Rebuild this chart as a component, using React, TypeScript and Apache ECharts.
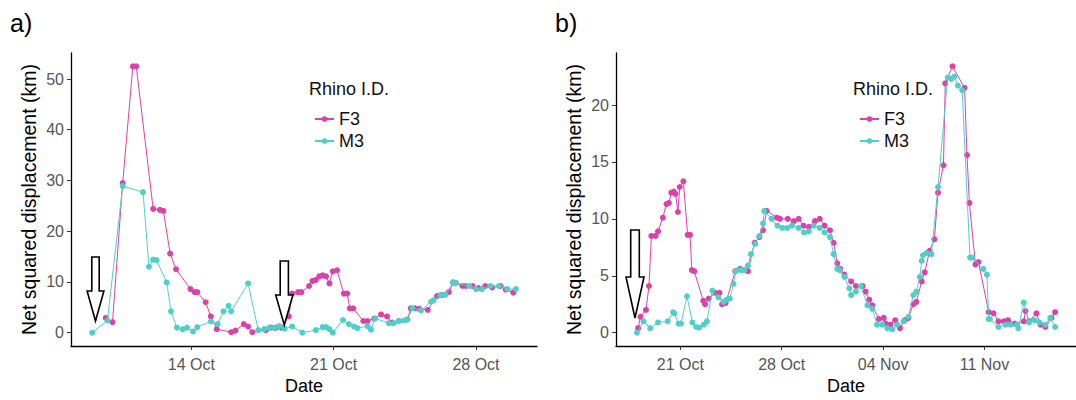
import React, { useEffect, useRef } from "react";
import * as echarts from "echarts";

// Net squared displacement of two rhinos (F3, M3), two tracking periods.
const YEAR = 2015;
const MONTHS = ["Jan", "Feb", "Mar", "Apr", "May", "Jun", "Jul", "Aug", "Sep", "Oct", "Nov", "Dec"];

// ---- Panel a) ----
const f3TimesA = [
  "10-09 19:00", "10-10 03:00", "10-10 15:00", "10-11 03:00", "10-11 07:00", "10-12 03:00",
  "10-12 11:00", "10-12 15:00", "10-12 23:00", "10-13 06:00", "10-13 23:00", "10-14 04:00",
  "10-14 07:00", "10-14 17:00", "10-14 23:00", "10-15 06:00", "10-15 23:00", "10-16 04:00",
  "10-16 14:00", "10-16 19:00", "10-17 00:00", "10-17 16:00", "10-17 22:00", "10-18 04:00",
  "10-18 10:00", "10-18 19:00", "10-18 23:00", "10-19 06:00", "10-19 10:00", "10-19 19:00",
  "10-19 23:00", "10-20 03:00", "10-20 07:00", "10-20 11:00", "10-20 15:00", "10-20 19:00",
  "10-20 23:00", "10-21 04:00", "10-21 12:00", "10-21 16:00", "10-21 19:00", "10-21 23:00",
  "10-22 11:00", "10-22 16:00", "10-23 00:00", "10-23 08:00", "10-23 15:00", "10-23 21:00",
  "10-24 05:00", "10-24 15:00", "10-24 19:00", "10-25 00:00", "10-25 05:00", "10-25 15:00",
  "10-26 02:00", "10-26 08:00", "10-26 16:00", "10-26 21:00", "10-27 00:00", "10-27 08:00",
  "10-27 12:00", "10-27 20:00", "10-28 03:00", "10-28 11:00", "10-28 19:00", "10-29 05:00",
  "10-29 11:00", "10-29 20:00",
];
const f3ValuesA = [
  2.9, 2.1, 29.5, 52.5, 52.5, 24.4,
  24.2, 24.0, 15.6, 12.5, 8.6, 8.0,
  8.0, 6.0, 3.2, 0.7, 0.1, 0.4,
  1.7, 1.2, 0.1, 0.5, 1.0, 1.0,
  1.0, 3.2, 7.7, 8.0, 8.0, 9.2,
  10.2, 10.4, 11.1, 11.3, 11.1, 9.7,
  12.1, 12.3, 7.7, 7.7, 4.8, 4.8,
  2.3, 2.3, 2.8, 3.6, 3.2, 2.0,
  2.3, 2.6, 4.8, 4.8, 4.7, 4.5,
  7.2, 7.4, 8.0, 9.9, 9.8, 9.2,
  9.2, 9.2, 8.8, 9.2, 8.9, 9.2,
  8.5, 7.9,
];
const m3TimesA = [
  "10-09 03:00", "10-09 21:00", "10-10 15:00", "10-11 15:00", "10-11 22:00", "10-12 03:00",
  "10-12 07:00", "10-12 19:00", "10-13 00:00", "10-13 07:00", "10-13 14:00", "10-13 19:00",
  "10-14 02:00", "10-14 07:00", "10-14 23:00", "10-15 07:00", "10-15 14:00", "10-15 20:00",
  "10-15 23:00", "10-16 19:00", "10-17 07:00", "10-17 14:00", "10-17 20:00", "10-18 02:00",
  "10-18 08:00", "10-18 14:00", "10-18 23:00", "10-19 11:00", "10-20 03:00", "10-20 11:00",
  "10-20 15:00", "10-20 19:00", "10-20 23:00", "10-21 11:00", "10-21 18:00", "10-22 00:00",
  "10-22 04:00", "10-22 16:00", "10-22 20:00", "10-23 01:00", "10-23 17:00", "10-23 23:00",
  "10-24 05:00", "10-24 11:00", "10-24 15:00", "10-24 21:00", "10-25 07:00", "10-25 19:00",
  "10-25 22:00", "10-26 06:00", "10-26 12:00", "10-26 21:00", "10-27 00:00", "10-27 16:00",
  "10-28 00:00", "10-28 07:00", "10-28 17:00", "10-29 03:00", "10-29 13:00", "10-29 23:00",
];
const m3ValuesA = [
  0, 2.4, 28.9, 27.7, 13.0, 14.4,
  14.3, 9.9, 4.2, 1.0, 0.7, 1.0,
  0.25, 1.1, 2.2, 1.7, 4.2, 5.3,
  4.2, 9.7, 0.5, 0.7, 1.0, 0.9,
  1.3, 0.8, 1.2, 0, 0.5, 1.1,
  1.1, 0.7, 0, 2.5, 1.7, 1.2,
  0.9, 1.3, 0.6, 2.8, 1.9, 1.9,
  2.3, 2.4, 2.6, 4.8, 4.4, 6.1,
  6.4, 7.4, 7.5, 9.9, 9.8, 9.2,
  8.6, 8.6, 9.2, 9.2, 8.6, 8.6,
];
const xTicksA = ["10-14", "10-21", "10-28"];
const yTicksA = [0, 10, 20, 30, 40, 50];

// ---- Panel b) ----
const f3TimesB = [
  "10-18 02:00", "10-18 06:00", "10-18 15:00", "10-18 20:00", "10-19 00:00", "10-19 07:00",
  "10-19 11:00", "10-19 19:00", "10-20 01:00", "10-20 05:00", "10-20 09:00", "10-20 13:00",
  "10-20 16:00", "10-20 20:00", "10-20 23:00", "10-21 05:00", "10-21 12:00", "10-21 16:00",
  "10-21 19:00", "10-21 23:00", "10-22 14:00", "10-22 17:00", "10-22 23:00", "10-23 10:00",
  "10-23 17:00", "10-23 21:00", "10-24 03:00", "10-24 19:00", "10-25 03:00", "10-25 16:00",
  "10-26 03:00", "10-26 11:00", "10-26 17:00", "10-26 23:00", "10-27 16:00", "10-27 21:00",
  "10-28 10:00", "10-28 20:00", "10-29 04:00", "10-29 12:00", "10-29 21:00", "10-30 07:00",
  "10-30 15:00", "10-30 23:00", "10-31 08:00", "10-31 14:00", "10-31 20:00", "11-01 01:00",
  "11-01 08:00", "11-01 19:00", "11-02 03:00", "11-02 14:00", "11-02 19:00", "11-03 01:00",
  "11-03 06:00", "11-03 17:00", "11-04 01:00", "11-04 04:00", "11-04 12:00", "11-04 20:00",
  "11-05 04:00", "11-05 12:00", "11-05 18:00", "11-06 02:00", "11-06 07:00", "11-06 16:00",
  "11-06 21:00", "11-07 05:00", "11-07 13:00", "11-07 19:00", "11-08 04:00", "11-08 07:00",
  "11-08 19:00", "11-09 15:00", "11-09 19:00", "11-09 23:00", "11-10 09:00", "11-10 14:00",
  "11-11 07:00", "11-11 15:00", "11-11 23:00", "11-12 08:00", "11-12 15:00", "11-13 02:00",
  "11-13 17:00", "11-13 20:00", "11-14 02:00", "11-14 14:00", "11-14 21:00", "11-15 05:00",
  "11-15 15:00", "11-15 21:00",
];
const f3ValuesB = [
  0.4, 1.4, 2.0, 4.1, 8.5, 8.5,
  8.9, 10.1, 11.3, 11.4, 12.3, 12.4,
  12.2, 10.6, 12.8, 13.3, 8.6, 8.6,
  5.5, 5.4, 2.8, 2.5, 3.0, 3.5,
  3.5, 2.5, 2.6, 5.4, 5.6, 5.4,
  7.9, 8.4, 9.0, 10.7, 10.1, 10.0,
  10.0, 9.8, 10.0, 9.4, 9.3, 9.8,
  10.0, 9.4, 9.0, 7.9, 6.1, 5.6,
  5.1, 4.5, 4.1, 4.1, 3.6, 2.9,
  2.4, 1.2, 1.3, 0.8, 0.7, 1.1,
  0.4, 1.1, 1.3, 2.5, 2.7, 4.5,
  5.3, 7.2, 8.2, 12.3, 14.7, 21.9,
  23.4, 21.5, 15.6, 11.4, 6.0, 6.2,
  1.8, 1.7, 1.0, 1.0, 1.1, 0.8,
  1.0, 1.9, 1.0, 1.7, 0.7, 0.5,
  1.3, 1.8,
];
const m3TimesB = [
  "10-18 00:00", "10-18 11:00", "10-18 22:00", "10-19 11:00", "10-20 03:00", "10-20 12:00",
  "10-20 14:00", "10-20 21:00", "10-21 01:00", "10-21 11:00", "10-21 20:00", "10-22 02:00",
  "10-22 07:00", "10-22 15:00", "10-22 20:00", "10-23 05:00", "10-23 15:00", "10-24 00:00",
  "10-24 05:00", "10-24 10:00", "10-24 16:00", "10-24 20:00", "10-25 04:00", "10-25 10:00",
  "10-25 16:00", "10-25 21:00", "10-26 04:00", "10-26 11:00", "10-26 17:00", "10-26 19:00",
  "10-27 07:00", "10-27 17:00", "10-28 01:00", "10-28 09:00", "10-28 17:00", "10-29 04:00",
  "10-29 13:00", "10-29 21:00", "10-30 05:00", "10-30 15:00", "10-30 23:00", "10-31 08:00",
  "10-31 14:00", "10-31 20:00", "11-01 00:00", "11-01 08:00", "11-01 16:00", "11-01 19:00",
  "11-02 03:00", "11-02 11:00", "11-02 22:00", "11-03 06:00", "11-03 14:00", "11-03 23:00",
  "11-04 07:00", "11-04 15:00", "11-04 23:00", "11-05 10:00", "11-05 18:00", "11-06 02:00",
  "11-06 07:00", "11-06 13:00", "11-06 16:00", "11-06 18:00", "11-07 00:00", "11-07 08:00",
  "11-07 19:00", "11-08 11:00", "11-08 17:00", "11-08 22:00", "11-09 04:00", "11-09 11:00",
  "11-10 00:00", "11-10 03:00", "11-10 22:00", "11-11 04:00", "11-11 07:00", "11-11 09:00",
  "11-11 23:00", "11-12 11:00", "11-12 19:00", "11-13 06:00", "11-13 08:00", "11-13 17:00",
  "11-14 02:00", "11-14 11:00", "11-14 19:00", "11-15 05:00", "11-15 13:00", "11-15 21:00",
];
const m3ValuesB = [
  0, 1.0, 0.4, 0.9, 1.0, 1.8,
  1.7, 0.8, 0.8, 3.2, 0.9, 0.5,
  0.45, 0.7, 1.0, 3.7, 3.1, 2.7,
  2.9, 3.0, 4.3, 5.4, 5.5, 5.5,
  5.9, 6.9, 7.8, 8.5, 9.6, 10.7,
  10.0, 9.4, 9.2, 9.2, 9.4, 9.2,
  8.8, 8.9, 9.4, 9.2, 8.8, 8.4,
  6.9, 5.6, 5.5, 4.9, 3.9, 3.3,
  3.6, 4.1, 2.4, 2.1, 0.7, 0.7,
  0.4, 0.3, 0.7, 1.0, 1.4, 3.3,
  3.6, 4.9, 6.3, 6.8, 7.0, 6.9,
  12.8, 22.4, 22.3, 22.5, 21.7, 21.3,
  6.6, 6.6, 5.6, 5.1, 1.2, 1.2,
  0.5, 0.7, 0.7, 0.7, 0.4, 2.65,
  0.9, 1.1, 0.9, 0.7, 1.3, 0.5,
];
const xTicksB = ["10-21", "10-28", "11-04", "11-11"];
const yTicksB = [0, 5, 10, 15, 20];

const seriesNames = ["F3", "M3"];
const PINK = "#DF3FAA";
const TEAL = "#4DD0C8";
const FONT = "'Liberation Sans', Arial, sans-serif";

function toMs(s: string): number {
  const [md, hm = "00:00"] = s.split(" ");
  const [mo, d] = md.split("-").map(Number);
  const [h, mi] = hm.split(":").map(Number);
  return Date.UTC(YEAR, mo - 1, d, h, mi);
}

function pairs(times: string[], values: number[]) {
  return times.map((t, i) => [toMs(t), values[i]]);
}

// ggplot-style 5% expansion of a data range
function expand(lo: number, hi: number): [number, number] {
  const p = (hi - lo) * 0.05;
  return [lo - p, hi + p];
}

function dayLabel(v: number): string {
  const d = new Date(v);
  return String(d.getUTCDate()).padStart(2, "0") + " " + MONTHS[d.getUTCMonth()];
}

function arrow(cx: number, top: number, headY: number, tipY: number, shaftHalf: number, headHalf: number) {
  return {
    type: "polygon",
    shape: {
      points: [
        [cx - shaftHalf, top],
        [cx + shaftHalf, top],
        [cx + shaftHalf, headY],
        [cx + headHalf, headY],
        [cx, tipY],
        [cx - headHalf, headY],
        [cx - shaftHalf, headY],
      ],
    },
    style: { fill: "#ffffff", stroke: "#000000", lineWidth: 1.6 },
    z: 100,
  };
}

export default function App() {
  const ref = useRef<HTMLDivElement>(null);

  useEffect(() => {
    if (!ref.current) return;
    const chart = echarts.init(ref.current, null, { renderer: "svg" });

    const dataA = [pairs(f3TimesA, f3ValuesA), pairs(m3TimesA, m3ValuesA)];
    const dataB = [pairs(f3TimesB, f3ValuesB), pairs(m3TimesB, m3ValuesB)];

    const xRange = (sets: number[][][]) => {
      const xs = sets.flat().map((p) => p[0]);
      return expand(Math.min(...xs), Math.max(...xs));
    };
    const yRange = (sets: number[][][]) => {
      const ys = sets.flat().map((p) => p[1]);
      return expand(Math.min(...ys), Math.max(...ys));
    };
    const [xMinA, xMaxA] = xRange(dataA);
    const [xMinB, xMaxB] = xRange(dataB);
    const [yMinA, yMaxA] = yRange(dataA);
    const [yMinB, yMaxB] = yRange(dataB);

    const xAxis = (idx: number, min: number, max: number, ticks: string[]) => ({
      type: "value",
      gridIndex: idx,
      min,
      max,
      name: "Date",
      nameLocation: "middle",
      nameGap: 31,
      nameTextStyle: { fontSize: 18, color: "#000", fontFamily: FONT },
      axisLine: { show: true, onZero: false, lineStyle: { color: "#000", width: 1.3 } },
      axisTick: {
        show: true,
        length: 4,
        customValues: ticks.map(toMs),
        lineStyle: { color: "#333", width: 1 },
      },
      axisLabel: {
        customValues: ticks.map(toMs),
        formatter: (v: number) => dayLabel(v),
        fontSize: 16,
        color: "#555",
        fontFamily: FONT,
        margin: 10,
      },
      splitLine: { show: false },
    });

    const yAxis = (idx: number, min: number, max: number, ticks: number[]) => ({
      type: "value",
      gridIndex: idx,
      min,
      max,
      name: "Net squared displacement (km)",
      nameLocation: "middle",
      nameGap: 32,
      nameTextStyle: { fontSize: 19.5, color: "#000", fontFamily: FONT },
      axisLine: { show: true, onZero: false, lineStyle: { color: "#000", width: 1.3 } },
      axisTick: { show: true, length: 4, customValues: ticks, lineStyle: { color: "#333", width: 1 } },
      axisLabel: { customValues: ticks, fontSize: 16, color: "#555", fontFamily: FONT, margin: 7 },
      splitLine: { show: false },
    });

    const lineSeries = (name: string, color: string, idx: number, data: number[][], z: number) => ({
      type: "line",
      name,
      xAxisIndex: idx,
      yAxisIndex: idx,
      data,
      symbol: "circle",
      symbolSize: 6,
      showSymbol: true,
      lineStyle: { color, width: 1 },
      itemStyle: { color },
      z,
    });

    const legend = (left: number) => ({
      left,
      top: 105,
      orient: "vertical",
      data: seriesNames,
      itemWidth: 19,
      itemHeight: 7,
      itemGap: 4,
      textStyle: { fontSize: 18, color: "#111", fontFamily: FONT, lineHeight: 18 },
    });

    chart.setOption({
      animation: false,
      backgroundColor: "#ffffff",
      grid: [
        { left: 71, right: 539, top: 53, bottom: 45, containLabel: false },
        { left: 616, right: -8, top: 53, bottom: 44, containLabel: false },
      ],
      xAxis: [xAxis(0, xMinA, xMaxA, xTicksA), xAxis(1, xMinB, xMaxB, xTicksB)],
      yAxis: [yAxis(0, yMinA, yMaxA, yTicksA), yAxis(1, yMinB, yMaxB, yTicksB)],
      legend: [legend(309), legend(854)],
      series: [
        lineSeries(seriesNames[0], PINK, 0, dataA[0], 2),
        lineSeries(seriesNames[1], TEAL, 0, dataA[1], 3),
        lineSeries(seriesNames[0], PINK, 1, dataB[0], 2),
        lineSeries(seriesNames[1], TEAL, 1, dataB[1], 3),
      ],
      graphic: [
        { type: "text", left: 10, top: 10, style: { text: "a)", fontSize: 25, fill: "#000", fontFamily: FONT } },
        { type: "text", left: 555, top: 10, style: { text: "b)", fontSize: 25, fill: "#000", fontFamily: FONT } },
        { type: "text", left: 309, top: 80, style: { text: "Rhino I.D.", fontSize: 18, fill: "#111", fontFamily: FONT } },
        { type: "text", left: 853, top: 80, style: { text: "Rhino I.D.", fontSize: 18, fill: "#111", fontFamily: FONT } },
        arrow(95.5, 257, 291, 321, 3.7, 8.4),
        arrow(284.3, 261, 295, 325, 4.1, 8.6),
        arrow(635, 230, 277, 318, 4.3, 9),
      ],
    });

    return () => chart.dispose();
  }, []);

  return (
    <div
      ref={ref}
      style={{ position: "fixed", left: 0, top: 0, width: 1076, height: 400, background: "#fff" }}
    />
  );
}
